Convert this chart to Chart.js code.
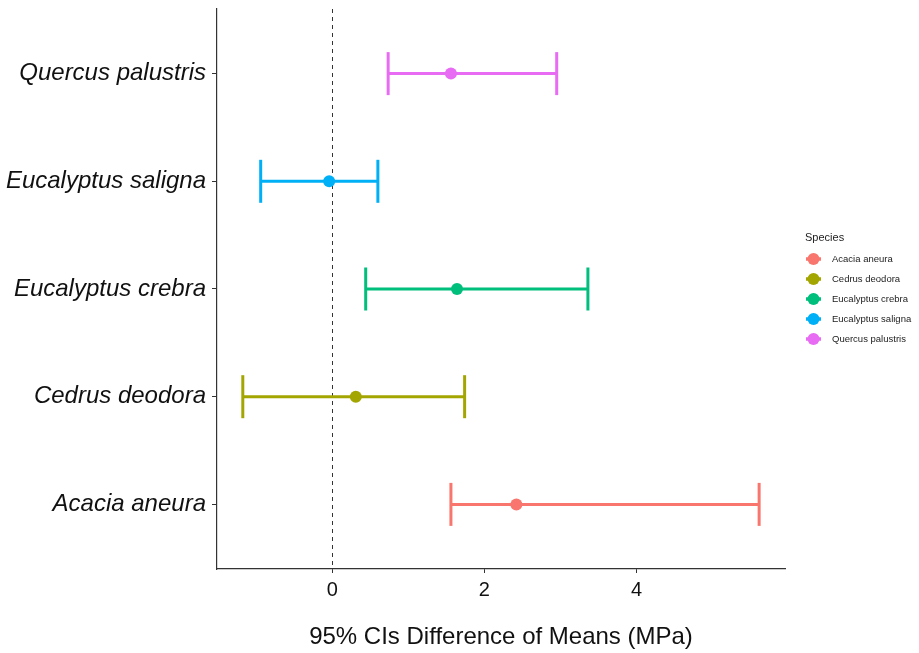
<!DOCTYPE html>
<html>
<head>
<meta charset="utf-8">
<script src="https://cdn.jsdelivr.net/npm/chart.js@4"></script>
<style>
  html, body { margin: 0; padding: 0; background: #fff; }
  #wrap { width: 919px; height: 653px; position: relative; }
</style>
</head>
<body>
<div id="wrap"><canvas id="chart"></canvas></div>
<script>
// Species, bottom to top (y = 1 .. 5)
const species = ['Acacia aneura', 'Cedrus deodora', 'Eucalyptus crebra', 'Eucalyptus saligna', 'Quercus palustris'];
const colors  = ['#F8766D', '#A3A500', '#00BF7D', '#00B0F6', '#E76BF3'];

// 95% CI of difference of means (MPa)
const lower = [1.56, -1.175, 0.44, -0.94, 0.735];
const means = [2.42, 0.31, 1.64, -0.04, 1.56];
const upper = [5.61, 1.74, 3.36, 0.60, 2.95];

const xTicks = [0, 2, 4];

const FONT = '"Liberation Sans", Arial, Helvetica, sans-serif';

// ── Datasets ────────────────────────────────────────────────────────────────
const barSets = species.map((s, i) => ({
  type: 'line',
  label: s + ' CI',
  data: [{ x: lower[i], y: i + 1 }, { x: upper[i], y: i + 1 }],
  borderColor: colors[i],
  borderWidth: 3,
  pointStyle: 'line',
  rotation: 90,
  pointRadius: 21.5,
  pointBorderWidth: 3,
  pointBorderColor: colors[i],
  pointHoverRadius: 21.5,
  order: 2,
}));

const meanSets = species.map((s, i) => ({
  type: 'scatter',
  label: s,
  data: [{ x: means[i], y: i + 1 }],
  backgroundColor: colors[i],
  borderColor: colors[i],
  pointRadius: 6,
  pointBorderWidth: 0,
  order: 1,
}));

// ── Plugins: zero reference line + legend ───────────────────────────────────
const zeroLine = {
  id: 'zeroLine',
  beforeDatasetsDraw(chart) {
    const { ctx, chartArea } = chart;
    const x = Math.round(chart.scales.x.getPixelForValue(0)) + 0.5;
    ctx.save();
    ctx.strokeStyle = '#333';
    ctx.lineWidth = 1;
    ctx.setLineDash([4, 4]);
    ctx.beginPath();
    ctx.moveTo(x, chartArea.top);
    ctx.lineTo(x, chartArea.bottom);
    ctx.stroke();
    ctx.restore();
  }
};

const sideLegend = {
  id: 'sideLegend',
  afterDraw(chart) {
    const { ctx } = chart;
    ctx.save();
    ctx.fillStyle = '#222';
    ctx.textBaseline = 'middle';
    ctx.font = '11px ' + FONT;
    ctx.fillText('Species', 805, 238);
    ctx.font = '9.5px ' + FONT;
    species.forEach((s, i) => {
      const y = 259 + i * 20;
      ctx.strokeStyle = colors[i];
      ctx.lineWidth = 3.5;
      ctx.beginPath();
      ctx.moveTo(806, y);
      ctx.lineTo(821, y);
      ctx.stroke();
      ctx.fillStyle = colors[i];
      ctx.beginPath();
      ctx.arc(813.5, y, 6, 0, Math.PI * 2);
      ctx.fill();
      ctx.fillStyle = '#222';
      ctx.fillText(s, 832, y);
    });
    ctx.restore();
  }
};

// ── Chart ───────────────────────────────────────────────────────────────────
new Chart(document.getElementById('chart'), {
  data: { datasets: [...barSets, ...meanSets] },
  options: {
    responsive: true,
    maintainAspectRatio: false,
    animation: false,
    layout: { autoPadding: false, padding: { top: 9, right: 134, left: 0, bottom: 0 } },
    plugins: { legend: { display: false }, tooltip: { enabled: false } },
    scales: {
      x: {
        type: 'linear',
        min: -1.514,
        max: 5.95,
        afterBuildTicks: s => { s.ticks = xTicks.map(v => ({ value: v })); },
        afterFit: s => { s.height = 84; s.paddingLeft = 0; s.paddingRight = 0; },
        grid: { drawOnChartArea: false, tickLength: 4, color: '#333' },
        border: { color: '#333', width: 1.2 },
        ticks: { color: '#111', font: { family: FONT, size: 20 }, padding: 5 },
        title: {
          display: true,
          text: '95% CIs Difference of Means (MPa)',
          color: '#111',
          font: { family: FONT, size: 24 },
          padding: { top: 0, bottom: 1 },
        },
      },
      y: {
        type: 'linear',
        min: 0.4,
        max: 5.6,
        afterBuildTicks: s => { s.ticks = species.map((_, i) => ({ value: i + 1 })); },
        afterFit: s => { s.width = 217; s.paddingTop = 0; s.paddingBottom = 0; },
        grid: { drawOnChartArea: false, tickLength: 5, color: '#333' },
        border: { color: '#333', width: 1.2 },
        ticks: {
          color: '#111',
          font: { family: FONT, size: 24, style: 'italic' },
          padding: 6,
          callback: v => species[v - 1],
        },
      },
    },
  },
  plugins: [zeroLine, sideLegend],
});
</script>
</body>
</html>
